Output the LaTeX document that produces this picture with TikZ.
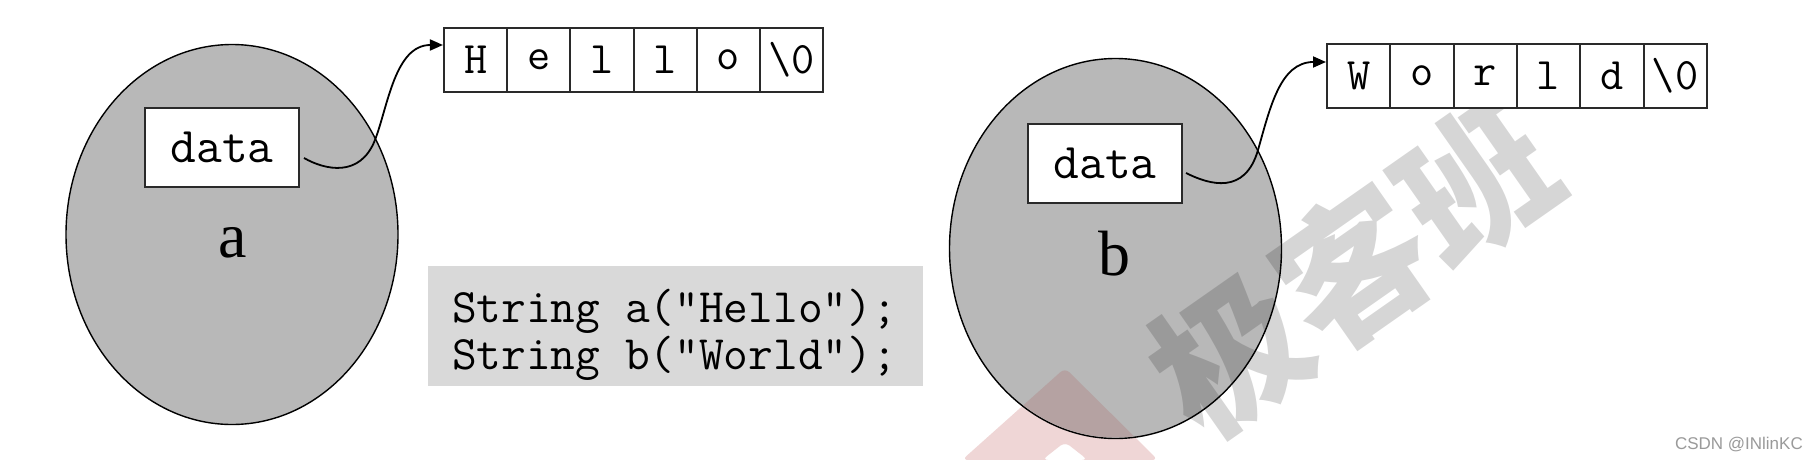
\documentclass[tikz,border=0pt]{standalone}
\usepackage{fontspec}
\setmainfont{Liberation Serif}
\newfontfamily\sansf{Liberation Sans}
\newfontfamily\cjk{Noto Sans CJK SC}
\usetikzlibrary{shapes.geometric,arrows.meta,positioning}
\definecolor{blobgray}{HTML}{B8B8B8}
\definecolor{codegray}{HTML}{D9D9D9}
\definecolor{edgegray}{HTML}{2A2A2A}
\definecolor{markgray}{HTML}{9A9A9A}
\definecolor{pinkout}{HTML}{EFD6D6}
\definecolor{pinkin}{HTML}{B5A2A2}
\tikzset{
  blob/.style={ellipse, draw=black, line width=1.4pt, fill=blobgray,
    minimum width=332pt, minimum height=380pt, inner sep=0pt},
  databox/.style={draw=edgegray, line width=2pt, fill=white,
    minimum width=154pt, minimum height=79pt, inner sep=0pt,
    font=\ttfamily\fontsize{50}{54}\selectfont},
  cell/.style={draw=edgegray, line width=2pt, fill=white,
    minimum width=63.3pt, minimum height=64pt, inner sep=0pt,
    font=\ttfamily\fontsize{45}{48}\selectfont},
  varname/.style={font=\fontsize{64}{70}\selectfont, inner sep=0pt},
  codebox/.style={fill=codegray, minimum width=495pt, minimum height=120pt, inner sep=0pt},
  codetext/.style={font=\ttfamily\fontsize{48}{46}\selectfont, inner sep=0pt},
  pointer/.style={line width=1.8pt, -{Triangle[length=13pt,width=11pt]}},
  watermark/.style={font=\cjk\bfseries\fontsize{150}{150}\selectfont, text=black, opacity=0.16, inner sep=0pt},
}
\begin{document}
\begin{tikzpicture}[x=1pt,y=-1pt]
\useasboundingbox (0,0) rectangle (1819,460);
\fill[white] (0,0) rectangle (1819,460);

% watermark triangle (outside part)
\fill[pinkout, even odd rule, rounded corners=6pt]
  (962,460) -- (1065,368) -- (1158,460) -- cycle
  (1042,460) -- (1065,442) -- (1088,460) -- cycle;

% objects
\node[blob] (ea) at (232,234.5) {};
\node[blob] (eb) at (1115.5,248.5) {};

% watermark triangle (inside ellipse b)
\begin{scope}
  \clip (eb.center) ellipse [x radius=165, y radius=189];
  \fill[pinkin, even odd rule, rounded corners=6pt]
    (962,460) -- (1065,368) -- (1158,460) -- cycle
    (1042,460) -- (1065,442) -- (1088,460) -- cycle;
\end{scope}

% code box
\node[codebox] (code) at (675.5,326) {};
\node[codetext, anchor=west, xshift=24pt, yshift=-9.8pt] (codetxt) at (code.west)
  {\begin{tabular}{@{}l@{}}String a("Hello");\\String b("World");\end{tabular}};

% watermark text
\node[watermark, rotate=35] (wm) at (1353,267) {极客班};

% data boxes and labels
\node[databox] (da) at (222,147.5) {data};
\node[varname, anchor=base] (la) at (233,257) {a};
\node[databox] (db) at (1105,163) {data};
\node[varname, anchor=base] (lb) at (1114,275) {b};

% Hello array
\foreach \c [count=\i from 0] in {H,e,l,l,o,\textbackslash0}{
  \node[cell] (h\i) at ({444+63.2*(\i+0.5)},60) {\c};
}
% World array
\foreach \c [count=\i from 0] in {W,o,r,l,d,\textbackslash0}{
  \node[cell] (w\i) at ({1327+63.3*(\i+0.5)},76) {\c};
}

% pointers
\coordinate (pa) at ([xshift=4pt,yshift=-10.5pt]da.east);
\coordinate (ta) at ([yshift=15pt]h0.west);
\draw[pointer] (pa) .. controls (325,170) and (360,178) .. (375,140)
  .. controls (388,106) and (395,45) .. (ta);
\coordinate (pb) at ([xshift=3pt,yshift=-10pt]db.east);
\coordinate (tb) at ([yshift=14pt]w0.west);
\draw[pointer] (pb) .. controls (1210,185) and (1245,195) .. (1258,150)
  .. controls (1270,108) and (1280,62) .. (tb);

% credit
\node[anchor=base east, font=\sansf\fontsize{17}{20}\selectfont, text=markgray, inner sep=0pt] (credit) at (1803,449) {CSDN @INlinKC};
\end{tikzpicture}
\end{document}
